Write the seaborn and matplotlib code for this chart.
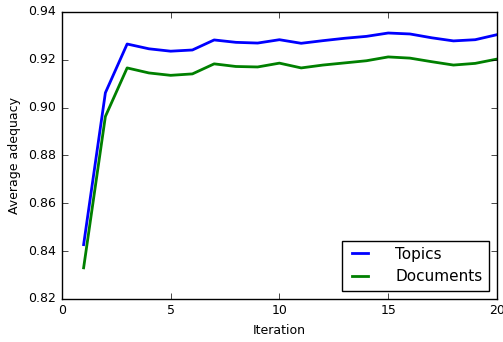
import pandas as pd
import seaborn as sns
import matplotlib
matplotlib.use('Agg')
import matplotlib.pyplot as plt

iterations = list(range(1, 21))
topics = [0.8427, 0.9062, 0.9266, 0.9246, 0.9236, 0.9241, 0.9283, 0.9273, 0.9270, 0.9284,
          0.9269, 0.9280, 0.9290, 0.9298, 0.9312, 0.9308, 0.9292, 0.9279, 0.9284, 0.9305]
documents = [0.8330, 0.8963, 0.9166, 0.9145, 0.9135, 0.9141, 0.9183, 0.9172, 0.9170, 0.9186,
             0.9166, 0.9178, 0.9187, 0.9196, 0.9212, 0.9207, 0.9192, 0.9178, 0.9185, 0.9203]

df = pd.DataFrame({
    'Iteration': iterations * 2,
    'adequacy': topics + documents,
    'series': ['Topics'] * 20 + ['Documents'] * 20,
})

plt.style.use('classic')
plt.rcParams['font.family'] = ['DejaVu Sans']

fig = plt.figure(figsize=(5.03, 3.42), dpi=100, facecolor='white')
ax = fig.add_axes([0.123, 0.126, 0.865, 0.839])

sns.lineplot(data=df, x='Iteration', y='adequacy', hue='series',
             palette={'Topics': 'blue', 'Documents': 'green'},
             linewidth=2, ax=ax)

ax.set_xlim(0, 20)
ax.set_ylim(0.82, 0.94)
ax.set_xticks([0, 5, 10, 15, 20])
ax.set_yticks([0.82, 0.84, 0.86, 0.88, 0.90, 0.92, 0.94])
ax.set_yticklabels(['0.82', '0.84', '0.86', '0.88', '0.90', '0.92', '0.94'])
ax.tick_params(labelsize=9)
ax.set_xlabel('Iteration', fontsize=9)
ax.set_ylabel('Average adequacy', fontsize=9)

leg = ax.legend(loc='lower right', fontsize=11, handlelength=1.65,
                handletextpad=1.45, borderaxespad=0.55)
leg.get_frame().set_edgecolor('black')

fig.savefig('out.png', dpi=100, facecolor='white')
